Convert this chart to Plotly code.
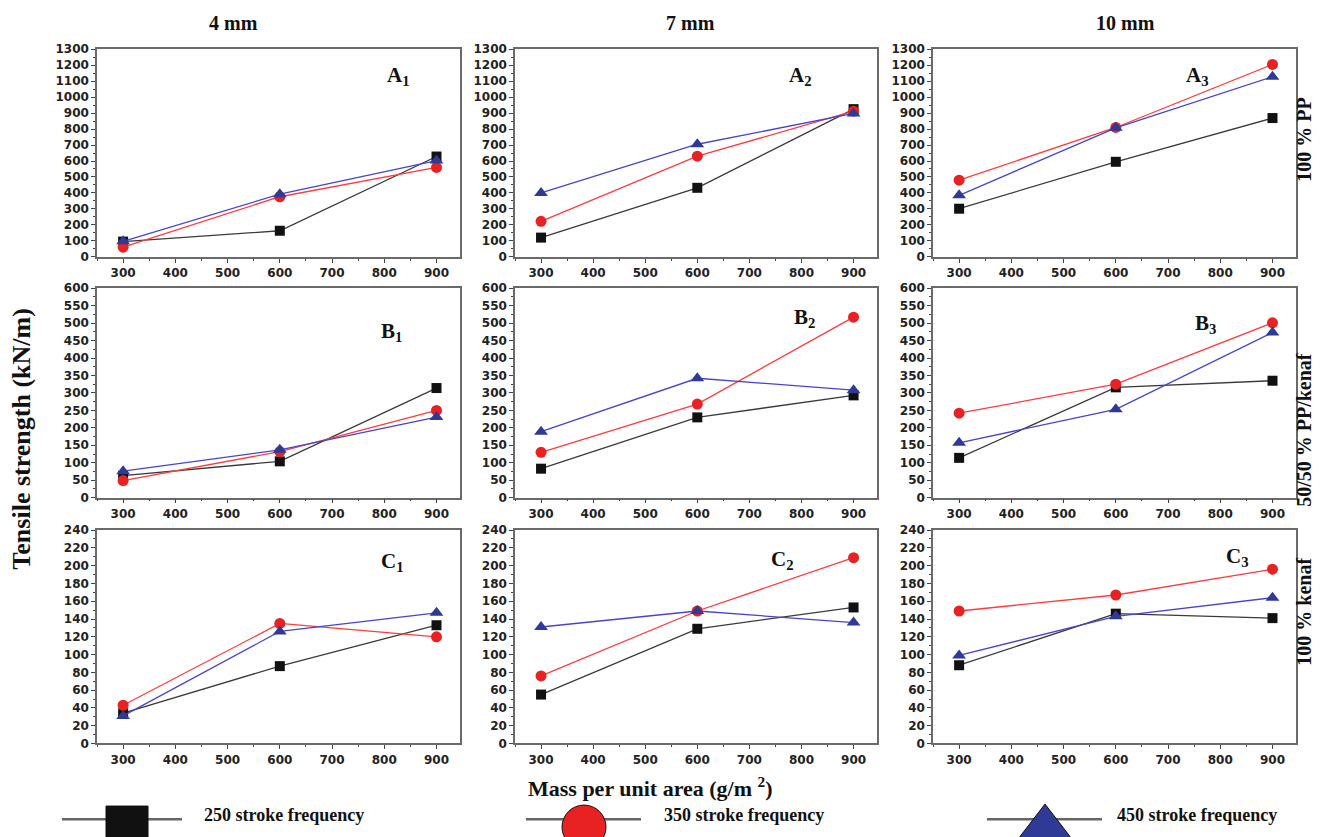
import plotly.graph_objects as go

# ---------------- data ----------------
mass = [300, 600, 900]
x_tick_vals = [300, 400, 500, 600, 700, 800, 900]
series_names = ["250 stroke frequency", "350 stroke frequency", "450 stroke frequency"]
col_titles = ["4 mm", "7 mm", "10 mm"]
row_titles = ["100 % PP", "50/50 % PP/kenaf", "100 % kenaf"]
row_letters = ["A", "B", "C"]
y_max = [1300, 600, 240]
y_dtick = [100, 50, 20]

# Row A : 100 % PP  (4 mm, 7 mm, 10 mm)
a1_250 = [95, 163, 628]
a1_350 = [60, 376, 560]
a1_450 = [97, 392, 603]
a2_250 = [120, 432, 925]
a2_350 = [222, 630, 912]
a2_450 = [400, 705, 898]
a3_250 = [301, 595, 869]
a3_350 = [480, 810, 1205]
a3_450 = [385, 808, 1128]
# Row B : 50/50 % PP/kenaf
b1_250 = [63, 104, 314]
b1_350 = [49, 132, 250]
b1_450 = [76, 137, 231]
b2_250 = [83, 230, 293]
b2_350 = [130, 268, 517]
b2_450 = [189, 342, 308]
b3_250 = [114, 316, 335]
b3_350 = [242, 325, 501]
b3_450 = [157, 253, 473]
# Row C : 100 % kenaf
c1_250 = [34, 87, 133]
c1_350 = [43, 135, 120]
c1_450 = [31, 126, 147]
c2_250 = [55, 129, 153]
c2_350 = [76, 149, 209]
c2_450 = [131, 149, 136]
c3_250 = [88, 146, 141]
c3_350 = [149, 167, 196]
c3_450 = [99, 143, 164]

panels = [
    [(a1_250, a1_350, a1_450), (a2_250, a2_350, a2_450), (a3_250, a3_350, a3_450)],
    [(b1_250, b1_350, b1_450), (b2_250, b2_350, b2_450), (b3_250, b3_350, b3_450)],
    [(c1_250, c1_350, c1_450), (c2_250, c2_350, c2_450), (c3_250, c3_350, c3_450)],
]

# ---------------- layout geometry ----------------
W, H = 1338, 837
col_px = [(97, 460), (515, 877), (933, 1296)]
row_px = [(43, 254), (286, 499), (532, 749)]
label_pos = [
    [(0.83, 0.87), (0.79, 0.87), (0.73, 0.87)],
    [(0.81, 0.79), (0.80, 0.86), (0.75, 0.83)],
    [(0.815, 0.85), (0.74, 0.86), (0.84, 0.875)],
]

line_colors = ["#3a3a3a", "#ff3b3b", "#4545d0"]
marker_colors = ["#111111", "#e82222", "#2e3a95"]
symbols = ["square", "circle", "triangle-up"]
msizes = [10, 11, 12]

serif = "Liberation Serif"
tick_font = dict(family="DejaVu Sans", size=12, color="#222222", weight="bold")

fig = go.Figure()
layout = dict(
    width=W, height=H, margin=dict(l=0, r=0, t=0, b=0, pad=0),
    paper_bgcolor="white", plot_bgcolor="white", showlegend=False,
)
annotations = []

idx = 0
for r in range(3):
    for c in range(3):
        idx += 1
        xs = "" if idx == 1 else str(idx)
        x0, x1 = col_px[c]
        yt, yb = row_px[r]
        layout["xaxis" + xs] = dict(
            domain=[x0 / W, x1 / W], anchor="y" + xs, range=[250, 945],
            tickvals=x_tick_vals, ticks="outside", ticklen=4, tickwidth=1,
            tickcolor="#444", showline=True, linecolor="#6a6a6a", linewidth=1.5,
            mirror=True, showgrid=False, zeroline=False, tickfont=tick_font,
            minor=dict(dtick=50, tick0=250, ticks="outside", ticklen=2, tickcolor="#444"),
        )
        layout["yaxis" + xs] = dict(
            domain=[1 - yb / H, 1 - yt / H], anchor="x" + xs, range=[0, y_max[r]],
            dtick=y_dtick[r], tick0=0, ticks="outside", ticklen=4, tickwidth=1,
            tickcolor="#444", showline=True, linecolor="#6a6a6a", linewidth=1.5,
            mirror=True, showgrid=False, zeroline=False, tickfont=tick_font,
            minor=dict(dtick=y_dtick[r] / 2, ticks="outside", ticklen=2, tickcolor="#444"),
        )
        for s in range(3):
            fig.add_trace(go.Scatter(
                x=mass, y=panels[r][c][s], mode="lines+markers",
                name=series_names[s], xaxis="x" + xs, yaxis="y" + xs,
                line=dict(color=line_colors[s], width=1.3),
                marker=dict(symbol=symbols[s], size=msizes[s], color=marker_colors[s]),
                cliponaxis=False,
            ))
        lx, ly = label_pos[r][c]
        annotations.append(dict(
            text="%s<sub>%d</sub>" % (row_letters[r], c + 1),
            xref="x%s domain" % xs, yref="y%s domain" % xs, x=lx, y=ly,
            xanchor="center", yanchor="middle",
            showarrow=False, font=dict(family=serif, size=21, color="#111", weight="bold"),
        ))

# column titles
col_centers = [233, 690, 1125]
for c in range(3):
    annotations.append(dict(
        text=col_titles[c], xref="paper", yref="paper", x=col_centers[c] / W, y=1 - 16 / H,
        xanchor="center", yanchor="middle",
        showarrow=False, font=dict(family=serif, size=20, color="#111", weight="bold"),
    ))

# row titles (right side)
row_centers = [135, 430, 615]
for r in range(3):
    annotations.append(dict(
        text=row_titles[r], xref="paper", yref="paper", x=1304 / W, y=1 - row_centers[r] / H,
        xanchor="center", yanchor="middle",
        textangle=-90, showarrow=False,
        font=dict(family=serif, size=20, color="#111", weight="bold"),
    ))

# axis titles
annotations.append(dict(
    text="Tensile strength (kN/m)", xref="paper", yref="paper", x=22 / W, y=1 - 440 / H,
    xanchor="center", yanchor="middle",
    textangle=-90, showarrow=False,
    font=dict(family=serif, size=26, color="#111", weight="bold"),
))
annotations.append(dict(
    text="Mass per unit area (g/m <sup>2</sup>)", xref="paper", yref="paper",
    x=650 / W, y=1 - 793 / H, xanchor="center", yanchor="middle", showarrow=False,
    font=dict(family=serif, size=22, color="#111", weight="bold"),
))

# ---------------- bottom legend (drawn on a pixel-scaled overlay axis) ----------------
leg_line_x = [(62, 182), (526, 641), (987, 1102)]
leg_marker_x = [127, 584, 1045]
leg_marker_size = [42, 44, 46]
leg_text_x = [202, 662, 1115]
leg_h = 60
layout["xaxis10"] = dict(domain=[0, 1], range=[0, W], visible=False, anchor="y10", fixedrange=True)
layout["yaxis10"] = dict(domain=[0, leg_h / H], range=[0, leg_h], visible=False, anchor="x10", fixedrange=True)
line_y = H - 826
mark_y = H - 834
for s in range(3):
    fig.add_trace(go.Scatter(
        x=list(leg_line_x[s]), y=[line_y, line_y], mode="lines", xaxis="x10", yaxis="y10",
        line=dict(color="#666666", width=2.5), hoverinfo="skip",
    ))
    fig.add_trace(go.Scatter(
        x=[leg_marker_x[s]], y=[mark_y], mode="markers", xaxis="x10", yaxis="y10",
        marker=dict(symbol=symbols[s], size=leg_marker_size[s], color=marker_colors[s],
                    line=dict(color="#111", width=1)),
        cliponaxis=False, hoverinfo="skip",
    ))
    annotations.append(dict(
        text=series_names[s], xref="paper", yref="paper", x=leg_text_x[s] / W, y=1 - 822 / H,
        xanchor="left", yanchor="middle", showarrow=False,
        font=dict(family=serif, size=18, color="#111", weight="bold"),
    ))

layout["annotations"] = annotations
fig.update_layout(**layout)
fig.write_html(
    "out.html",
    config={"displayModeBar": False},
    post_script="document.body.style.margin='0px';document.body.style.overflow='hidden';",
)
